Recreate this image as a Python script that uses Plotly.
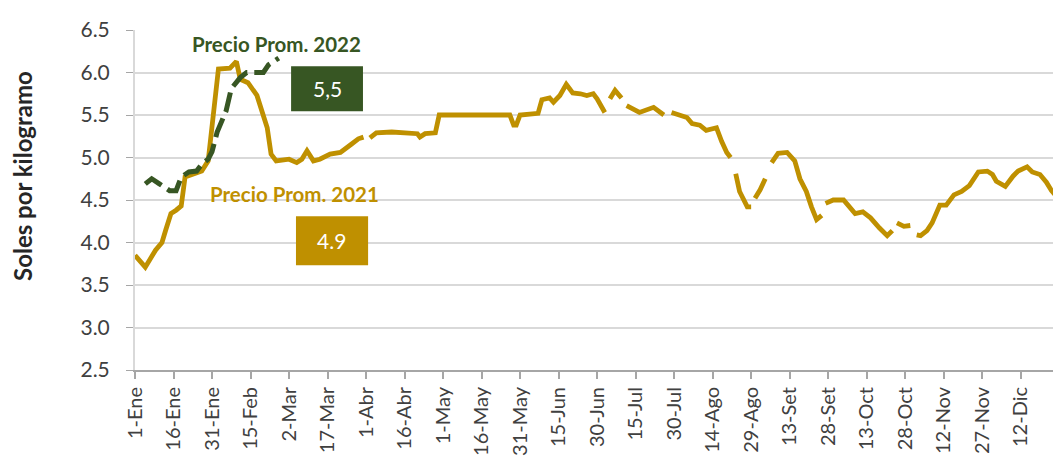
import plotly.graph_objects as go

# ---- data (day of year index: 0 = 1-Ene) ----
days21 = [0, 4, 8, 10.5, 12, 14, 16, 18, 19.5, 22.5, 26, 28.5, 30, 32.5, 37, 39.5, 41, 44, 47.5, 50,
          51.5, 53, 55, 60, 63, 65, 67, 69.5, 72, 76, 80, 84, 87, 89, 90, 91.5, 94, 100, 105, 110,
          111, 113, 117, 118.5, 130, 140, 146, 147.5, 148.5, 150, 157, 158.5, 161.5, 163, 165.5, 168,
          170.5, 173.5, 176, 178.5, 180, 183, 184, 185, 187, 189.5, 190.5, 191.5, 196.5, 202, 206,
          207.5, 209, 215, 217, 220, 222.5, 226.5, 228.5, 230.5, 232, 233, 234, 235.5, 238.5, 240,
          240.8, 241.5, 243.5, 245.5, 246.5, 248, 250.5, 254, 257, 259, 261.5, 263.5, 265.5, 267.5,
          268.2, 269, 272, 276, 278.5, 280.5, 283.5, 286.5, 290, 293, 295, 296, 296.8, 299.5, 302,
          303, 304.5, 306, 308.5, 310.5, 313.5, 316, 319, 322, 325, 328.5, 332, 334, 335.5, 339,
          342, 344, 347.5, 349.5, 352.5, 355, 357, 359, 361]
price21 = [3.85, 3.71, 3.91, 4.00, 4.15, 4.34, 4.38, 4.43, 4.77, 4.80, 4.84, 4.96, 5.35, 6.04, 6.05, 6.13, 5.92, 5.88, 5.73, 5.46,
           5.35, 5.04, 4.96, 4.98, 4.94, 4.98, 5.08, 4.96, 4.98, 5.04, 5.06, 5.15, 5.22, 5.24, None, 5.23, 5.29, 5.30, 5.29, 5.28,
           5.24, 5.28, 5.29, 5.50, 5.50, 5.50, 5.50, 5.38, 5.38, 5.50, 5.52, 5.68, 5.70, 5.65, 5.73, 5.86,
           5.76, 5.75, 5.73, 5.75, 5.69, 5.53, None, 5.69, 5.79, 5.70, None, 5.61, 5.53, 5.59, 5.50,
           None, 5.53, 5.47, 5.40, 5.38, 5.32, 5.35, 5.19, 5.06, 5.00, None, 4.81, 4.60, 4.42, 4.42,
           None, 4.52, 4.62, 4.75, None, 4.94, 5.05, 5.06, 4.96, 4.75, 4.60, 4.42, 4.27, 4.32,
           None, 4.46, 4.50, 4.50, 4.40, 4.34, 4.36, 4.29, 4.17, 4.08, 4.14, None, 4.23, 4.19, 4.20,
           None, 4.09, 4.08, 4.14, 4.23, 4.44, 4.44, 4.56, 4.60, 4.67, 4.83, 4.84, 4.80, 4.72, 4.66,
           4.78, 4.84, 4.89, 4.83, 4.80, 4.71, 4.61, 4.54, 4.61]

days22 = [4, 6.5, 9.5, 13.5, 16, 18, 21, 24, 26, 28.5, 30, 32, 35.5, 37.5, 41, 43.5, 50, 52, 56]
price22 = [4.69, 4.75, 4.69, 4.61, 4.61, 4.77, 4.83, 4.84, 4.92, 4.98, 5.07, 5.30, 5.55, 5.81, 5.94, 6.00, 6.00, 6.09, 6.17]

tick_days = list(range(0, 361, 15))
tick_labels = ["1-Ene", "16-Ene", "31-Ene", "15-Feb", "2-Mar", "17-Mar", "1-Abr", "16-Abr", "1-May",
               "16-May", "31-May", "15-Jun", "30-Jun", "15-Jul", "30-Jul", "14-Ago", "29-Ago", "13-Set",
               "28-Set", "13-Oct", "28-Oct", "12-Nov", "27-Nov", "12-Dic", "27-Dic"]

avg_2022 = "5,5"
avg_2021 = "4.9"

GOLD = "#BF9000"
GREEN = "#375623"
FONT = "Lato"

# page body has an 8px offset; margins compensate
ML, MR, MT, MB = 127, 8, 15, 99
PW = 1061 - ML - MR
PH = 461 - MT - MB

fig = go.Figure()
fig.add_trace(go.Scatter(x=days21, y=price21, mode="lines", connectgaps=False,
                         line=dict(color=GOLD, width=4.8), name="2021"))
fig.add_trace(go.Scatter(x=days22, y=price22, mode="lines",
                         line=dict(color=GREEN, width=5, dash="20px,7px"), name="2022"))

# average boxes
fig.add_shape(type="rect", xref="x", yref="y", x0=60.8, x1=88.8, y0=5.543, y1=6.073,
              fillcolor=GREEN, line=dict(width=0), layer="above")
fig.add_shape(type="rect", xref="x", yref="y", x0=62.7, x1=90.8, y0=3.733, y1=4.31,
              fillcolor=GOLD, line=dict(width=0), layer="above")
fig.add_annotation(x=74.8, y=5.81, xref="x", yref="y", text=avg_2022, showarrow=False,
                   font=dict(family=FONT, size=21, color="white"))
fig.add_annotation(x=76.7, y=4.02, xref="x", yref="y", text=avg_2021, showarrow=False,
                   font=dict(family=FONT, size=21, color="white"))
fig.add_annotation(x=55.3, y=6.34, xref="x", yref="y", text="<b>Precio Prom. 2022</b>", showarrow=False,
                   font=dict(family=FONT, size=20.5, color=GREEN))
fig.add_annotation(x=62.3, y=4.575, xref="x", yref="y", text="<b>Precio Prom. 2021</b>", showarrow=False,
                   font=dict(family=FONT, size=20.5, color=GOLD))
fig.add_annotation(x=(15 - ML) / PW, y=1 - (164 - MT) / PH, xref="paper", yref="paper",
                   xanchor="center", yanchor="middle", text="<b>Soles por kilogramo</b>",
                   showarrow=False, textangle=-90, font=dict(family=FONT, size=24, color="#262626"))

fig.update_layout(
    width=1061, height=461,
    margin=dict(l=ML, r=MR, t=MT, b=MB, pad=0),
    paper_bgcolor="white", plot_bgcolor="white",
    showlegend=False,
    font=dict(family=FONT, color="#404040"),
)

fig.update_xaxes(range=[0, 360.7], tickmode="array", tickvals=tick_days, ticktext=tick_labels,
                 tickangle=-90, ticks="outside", ticklen=7, tickcolor="#A6A6A6", tickwidth=1.5,
                 showline=True, linecolor="#A6A6A6", linewidth=2, showgrid=False, zeroline=False,
                 tickfont=dict(family=FONT, size=20, color="#404040"))
fig.update_yaxes(range=[2.5, 6.5], dtick=0.5, tick0=2.5, tickformat=".1f", ticks="outside", ticklen=7,
                 tickcolor="#A6A6A6", showline=True, linecolor="#D9D9D9", linewidth=2,
                 showgrid=True, gridcolor="#D9D9D9", gridwidth=2, zeroline=False,
                 ticklabelstandoff=12,
                 tickfont=dict(family=FONT, size=21, color="#404040"))

fig.write_html("out.html")
